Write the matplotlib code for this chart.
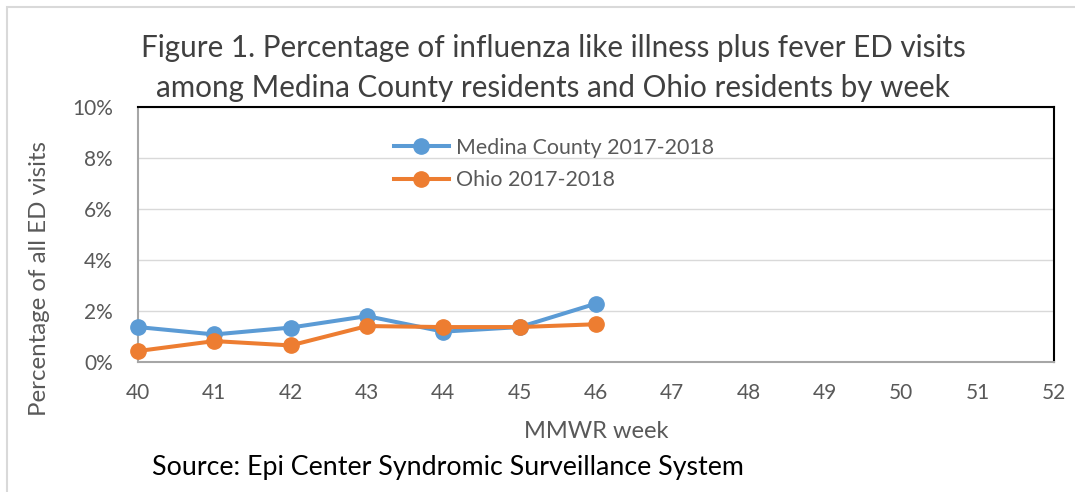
import matplotlib
matplotlib.use("Agg")
import matplotlib.pyplot as plt
from matplotlib.patches import Rectangle
from matplotlib.ticker import FuncFormatter

weeks = [40, 41, 42, 43, 44, 45, 46]
medina = [1.37, 1.08, 1.35, 1.80, 1.19, 1.37, 2.29]
ohio = [0.43, 0.82, 0.65, 1.41, 1.37, 1.37, 1.48]
x_ticks = list(range(40, 53))
y_ticks = [0, 2, 4, 6, 8, 10]

title = ("Figure 1. Percentage of influenza like illness plus fever ED visits\n"
         "among Medina County residents and Ohio residents by week")

plt.rcParams['font.family'] = ['Lato', 'DejaVu Sans']
W, H = 1075, 492
fig = plt.figure(figsize=(W / 100, H / 100), dpi=100)

# outer chart border
fig.patches.append(Rectangle((7 / W, -0.1), 1.2, 1 - 7 / H + 0.1, transform=fig.transFigure,
                             fill=False, edgecolor='#D9D9D9', linewidth=1.5))

ax = fig.add_axes([138 / W, 1 - 362 / H, 916 / W, 255 / H])
ax.set_xlim(40, 52)
ax.set_ylim(0, 10)
ax.set_xticks(x_ticks)
ax.set_yticks(y_ticks)
ax.yaxis.set_major_formatter(FuncFormatter(lambda v, p: f"{int(v)}%"))
ax.grid(axis='y', color='#D9D9D9', linewidth=1)
ax.set_axisbelow(True)
for s in ['top', 'right']:
    ax.spines[s].set_color('black')
    ax.spines[s].set_linewidth(1.5)
for s in ['left', 'bottom']:
    ax.spines[s].set_color('#A6A6A6')
    ax.spines[s].set_linewidth(1.5)
ax.tick_params(length=0, labelsize=15, colors='#595959')
ax.tick_params(axis='x', pad=15)
ax.tick_params(axis='y', pad=18)

l1, = ax.plot(weeks, medina, color='#5B9BD5', lw=2.9, marker='o', ms=11, clip_on=False,
              label='Medina County 2017-2018', zorder=3)
l2, = ax.plot(weeks, ohio, color='#ED7D31', lw=2.9, marker='o', ms=11, clip_on=False,
              label='Ohio 2017-2018', zorder=4)

fig.text(596 / W, 1 - 432 / H, 'MMWR week', ha='center', va='center',
         fontsize=17, color='#595959')
fig.text(40 / W, 1 - 278 / H, 'Percentage of all ED visits', ha='center', va='center',
         rotation=90, fontsize=17.3, color='#595959')

leg = ax.legend(handles=[l1, l2], loc='upper left', bbox_to_anchor=(385 / W, 1 - 129 / H),
                bbox_transform=fig.transFigure, frameon=False, fontsize=15.4,
                handlelength=2.6, handletextpad=0.3, labelspacing=0.6, borderaxespad=0)
for t in leg.get_texts():
    t.set_color('#595959')

fig.text(553 / W, 1 - 68 / H, title, ha='center', va='center', fontsize=21.3,
         color='#404040', linespacing=1.5)
fig.text(152 / W, 1 - 467 / H, 'Source: Epi Center Syndromic Surveillance System',
         ha='left', va='center', fontsize=19.3, color='black')

fig.savefig('out.png', dpi=100)
